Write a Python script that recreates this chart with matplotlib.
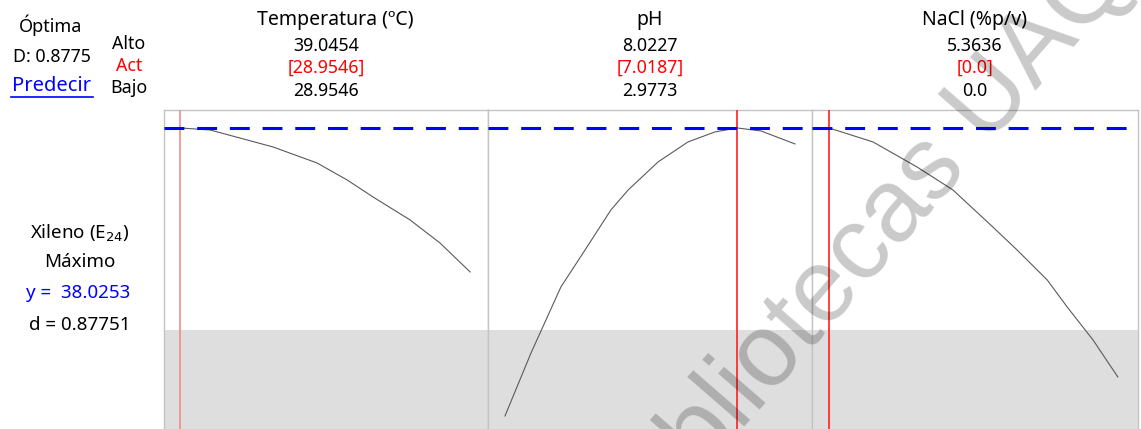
import matplotlib.pyplot as plt
from matplotlib.lines import Line2D

plt.rcParams['font.family'] = ['Noto Sans', 'DejaVu Sans']

# factors: name, high, current, low
factor_names = ['Temperatura (ºC)', 'pH', 'NaCl (%p/v)']
high_vals = [39.0454, 8.0227, 5.3636]
cur_vals = [28.9546, 7.0187, 0.0]
low_vals = [28.9546, 2.9773, 0.0]
high_txt = ['39.0454', '8.0227', '5.3636']
cur_txt = ['[28.9546]', '[7.0187]', '[0.0]']
low_txt = ['28.9546', '2.9773', '0.0']

# predicted response traces (Xileno E24) for each factor
temp_x = [28.95, 30.0, 32.19, 33.72, 34.77, 35.67, 36.96, 38.00, 39.05]
temp_y = [38.03, 37.83, 36.13, 34.53, 32.83, 31.13, 28.83, 26.53, 23.63]
ph_x = [2.977, 3.43, 3.95, 4.37, 4.82, 5.12, 5.64, 6.16, 6.63, 7.0187, 7.43, 8.023]
ph_y = [9.23, 15.53, 22.13, 25.83, 29.83, 31.83, 34.63, 36.63, 37.63, 38.03, 37.73, 36.43]
nacl_x = [0.0, 0.817, 1.633, 2.30, 3.04, 3.49, 4.05, 4.42, 4.90, 5.36]
nacl_y = [38.03, 36.63, 34.13, 31.83, 28.13, 25.83, 22.83, 20.13, 16.83, 13.13]
curves = [(temp_x, temp_y), (ph_x, ph_y), (nacl_x, nacl_y)]

y_opt = 38.0253
d_val = 0.87751
D_comp = 0.8775
lower_bound = 17.8

W, H = 1141, 429
fig = plt.figure(figsize=(W / 100, H / 100), dpi=100)


def fx(p):
    return p / W


def fy(p):
    return 1 - p / H


panel_edges = [(164, 488), (488, 812), (812, 1138)]
# pixel margins on left/right of each panel (low/high points)
margins = [(16, 18), (17, 17), (17, 20)]
red_cols = ['#f08c8c', '#ff2020', '#ff2020']
head_shift = [9, 0, 0]
top_px, bot_px = 110, 440

for i, ((l, r), (ml, mr)) in enumerate(zip(panel_edges, margins)):
    ax = fig.add_axes([fx(l), fy(bot_px), (r - l) / W, (bot_px - top_px) / H])
    span = high_vals[i] - low_vals[i]
    width_px = (r - l) - ml - mr
    per_px = span / width_px
    ax.set_xlim(low_vals[i] - ml * per_px, high_vals[i] + mr * per_px)
    ax.set_ylim(y_opt - (bot_px - 128) * 0.1, y_opt + (128 - top_px) * 0.1)
    ax.axhspan(-100, lower_bound, color='#dedede', lw=0, zorder=0)
    ax.plot(curves[i][0], curves[i][1], color='#5a5a5a', lw=0.8, zorder=2)
    ax.axvline(cur_vals[i], color=red_cols[i], lw=1.2, zorder=3)
    ax.axhline(y_opt, color='#0000ff', lw=2.2, dashes=(6.5, 4.2), zorder=4)
    ax.set_xticks([])
    ax.set_yticks([])
    for s in ax.spines.values():
        s.set_color('#c4c4c4')
        s.set_linewidth(1.0)

    cx = fx((l + r) / 2)
    fig.text(fx((l + r) / 2 + head_shift[i]), fy(20), factor_names[i], ha='center', va='center', fontsize=14)
    fig.text(cx, fy(46), high_txt[i], ha='center', va='center', fontsize=12.8)
    fig.text(cx, fy(68), cur_txt[i], ha='center', va='center', fontsize=12.8, color='#ff0000')
    fig.text(cx, fy(91), low_txt[i], ha='center', va='center', fontsize=12.8)

# left header block
fig.text(fx(51), fy(25), 'Óptima', ha='center', va='center', fontsize=13)
fig.text(fx(52), fy(57), f'D: {D_comp:.4f}', ha='center', va='center', fontsize=12.8)
fig.text(fx(52), fy(86), 'Predecir', ha='center', va='center', fontsize=14.5, color='#0000ff')
fig.add_artist(Line2D([fx(11), fx(93)], [fy(97), fy(97)], color='#0000ff', lw=1.2))
fig.text(fx(129), fy(44), 'Alto', ha='center', va='center', fontsize=12.8)
fig.text(fx(129), fy(66), 'Act', ha='center', va='center', fontsize=12.8, color='#ff0000')
fig.text(fx(129), fy(88), 'Bajo', ha='center', va='center', fontsize=12.8)

# response block
fig.text(fx(80), fy(233), r'Xileno (E$_{24}$)', ha='center', va='center', fontsize=13.5)
fig.text(fx(80), fy(262), 'Máximo', ha='center', va='center', fontsize=13.5)
fig.text(fx(78), fy(293), f'y =  {y_opt:.4f}', ha='center', va='center', fontsize=13.5, color='#0000ff')
fig.text(fx(80), fy(325), f'd = {d_val:.5f}', ha='center', va='center', fontsize=13.5)

# watermark
fig.text(fx(888), fy(261), 'Bibliotecas UAQ', ha='center', va='baseline', fontsize=74,
         family='Liberation Sans', rotation=49, rotation_mode='anchor',
         color='black', alpha=0.21, zorder=10)

plt.savefig('out.png', dpi=100)
